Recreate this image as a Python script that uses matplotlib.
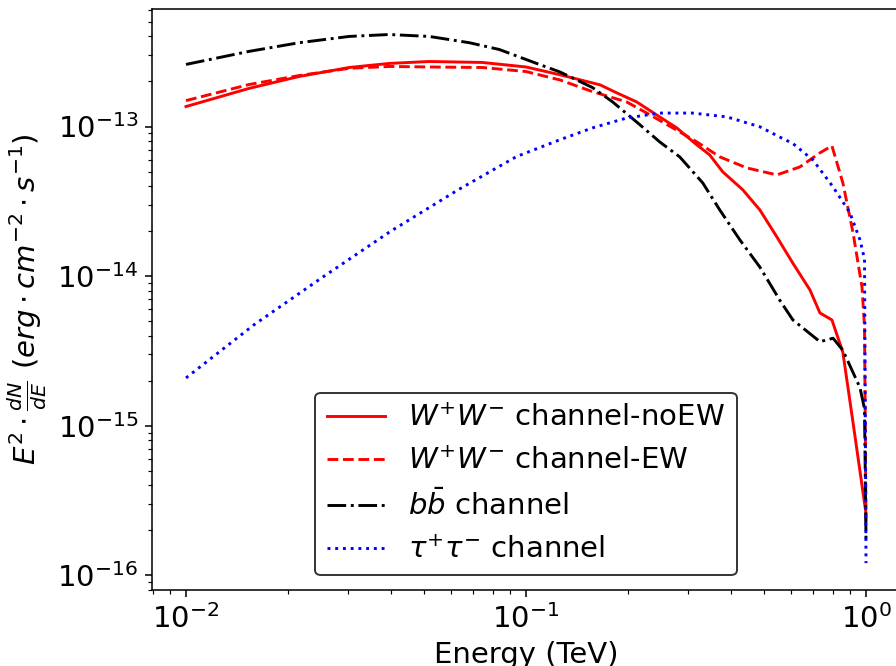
import matplotlib
matplotlib.use("Agg")
import matplotlib.pyplot as plt

# energies (TeV) and E^2 dN/dE (erg cm^-2 s^-1)
e_ww = [0.01, 0.01535, 0.0215, 0.0302, 0.0396, 0.0519, 0.0744, 0.1, 0.1256,
        0.165, 0.1848, 0.2116, 0.2472, 0.2775, 0.3178, 0.347, 0.379, 0.434,
        0.4874, 0.5468, 0.6095, 0.684, 0.732, 0.794, 0.855, 0.916, 1.0]
f_ww_noew = [1.36e-13, 1.80e-13, 2.16e-13, 2.48e-13, 2.64e-13, 2.72e-13,
             2.68e-13, 2.50e-13, 2.22e-13, 1.90e-13, 1.68e-13, 1.46e-13,
             1.16e-13, 9.8e-14, 7.55e-14, 6.46e-14, 4.98e-14, 3.78e-14,
             2.77e-14, 1.83e-14, 1.22e-14, 8.1e-15, 5.68e-15, 5.1e-15,
             3.1e-15, 1.05e-15, 2.6e-16]

e_ww_ew = [0.01, 0.01535, 0.0215, 0.0302, 0.0396, 0.0519, 0.0744, 0.1,
           0.1256, 0.157, 0.1977, 0.2311, 0.270, 0.3178, 0.3715, 0.446,
           0.5468, 0.639, 0.732, 0.794, 0.855, 0.916, 0.973, 0.99, 1.0]
f_ww_ew = [1.49e-13, 1.91e-13, 2.19e-13, 2.45e-13, 2.52e-13, 2.50e-13,
           2.48e-13, 2.33e-13, 2.05e-13, 1.71e-13, 1.46e-13, 1.20e-13,
           9.8e-14, 7.9e-14, 6.27e-14, 5.29e-14, 4.75e-14, 5.37e-14,
           6.67e-14, 7.43e-14, 4.2e-14, 1.95e-14, 8.5e-15, 4.6e-15, 2.3e-16]

e_bb = [0.01, 0.01535, 0.0215, 0.0302, 0.0396, 0.0519, 0.0682, 0.0835,
        0.1094, 0.1256, 0.157, 0.1798, 0.216, 0.2472, 0.2832, 0.331, 0.3715,
        0.4255, 0.4874, 0.558, 0.6095, 0.732, 0.80, 0.855, 0.96, 0.99, 1.0]
f_bb = [2.60e-13, 3.18e-13, 3.63e-13, 4.0e-13, 4.12e-13, 4.0e-13, 3.63e-13,
        3.27e-13, 2.6e-13, 2.32e-13, 1.82e-13, 1.46e-13, 1.03e-13, 7.9e-14,
        6.27e-14, 4.2e-14, 2.77e-14, 1.75e-14, 1.15e-14, 6.9e-15, 5.1e-15,
        3.65e-15, 3.85e-15, 3.2e-15, 1.8e-15, 1.3e-15, 1.74e-16]

e_tau = [0.01, 0.01586, 0.02515, 0.0399, 0.0633, 0.0938, 0.1256, 0.157,
         0.1977, 0.2472, 0.309, 0.3896, 0.4874, 0.558, 0.6095, 0.698, 0.80,
         0.897, 0.96, 0.99, 1.0]
f_tau = [2.09e-15, 4.74e-15, 9.8e-15, 1.99e-14, 3.79e-14, 6.3e-14, 8.15e-14,
         9.8e-14, 1.14e-13, 1.23e-13, 1.23e-13, 1.16e-13, 9.96e-14, 8.5e-14,
         7.7e-14, 5.98e-14, 3.95e-14, 2.65e-14, 1.75e-14, 1.3e-14, 1.21e-16]

plt.rcParams['font.size'] = 15

fig = plt.figure(figsize=(6.4, 666 / 140), dpi=140)
ax = fig.add_axes([152 / 896, 76 / 666, 748 / 896, 581 / 666])

ax.plot(e_ww, f_ww_noew, 'r-', lw=1.5, label=r'$W^{+}W^{-}$ channel-noEW')
ax.plot(e_ww_ew, f_ww_ew, 'r--', lw=1.5, label=r'$W^{+}W^{-}$ channel-EW')
ax.plot(e_bb, f_bb, 'k-.', lw=1.5, label=r'$b\bar{b}$ channel')
ax.plot(e_tau, f_tau, 'b:', lw=1.5, label=r'$\tau^{+}\tau^{-}$ channel')

ax.set_xscale('log')
ax.set_yscale('log')
ax.set_xlim(10 ** -2.1, 10 ** 0.1)
ax.set_ylim(8.0e-17, 6.1e-13)
ax.set_xlabel('Energy (TeV)')
ax.set_ylabel(r'$E^2 \cdot \frac{dN}{dE}\ (erg \cdot cm^{-2} \cdot s^{-1})$')

leg = ax.legend(loc='lower center', edgecolor='black')

fig.savefig('out.png', dpi=140)
